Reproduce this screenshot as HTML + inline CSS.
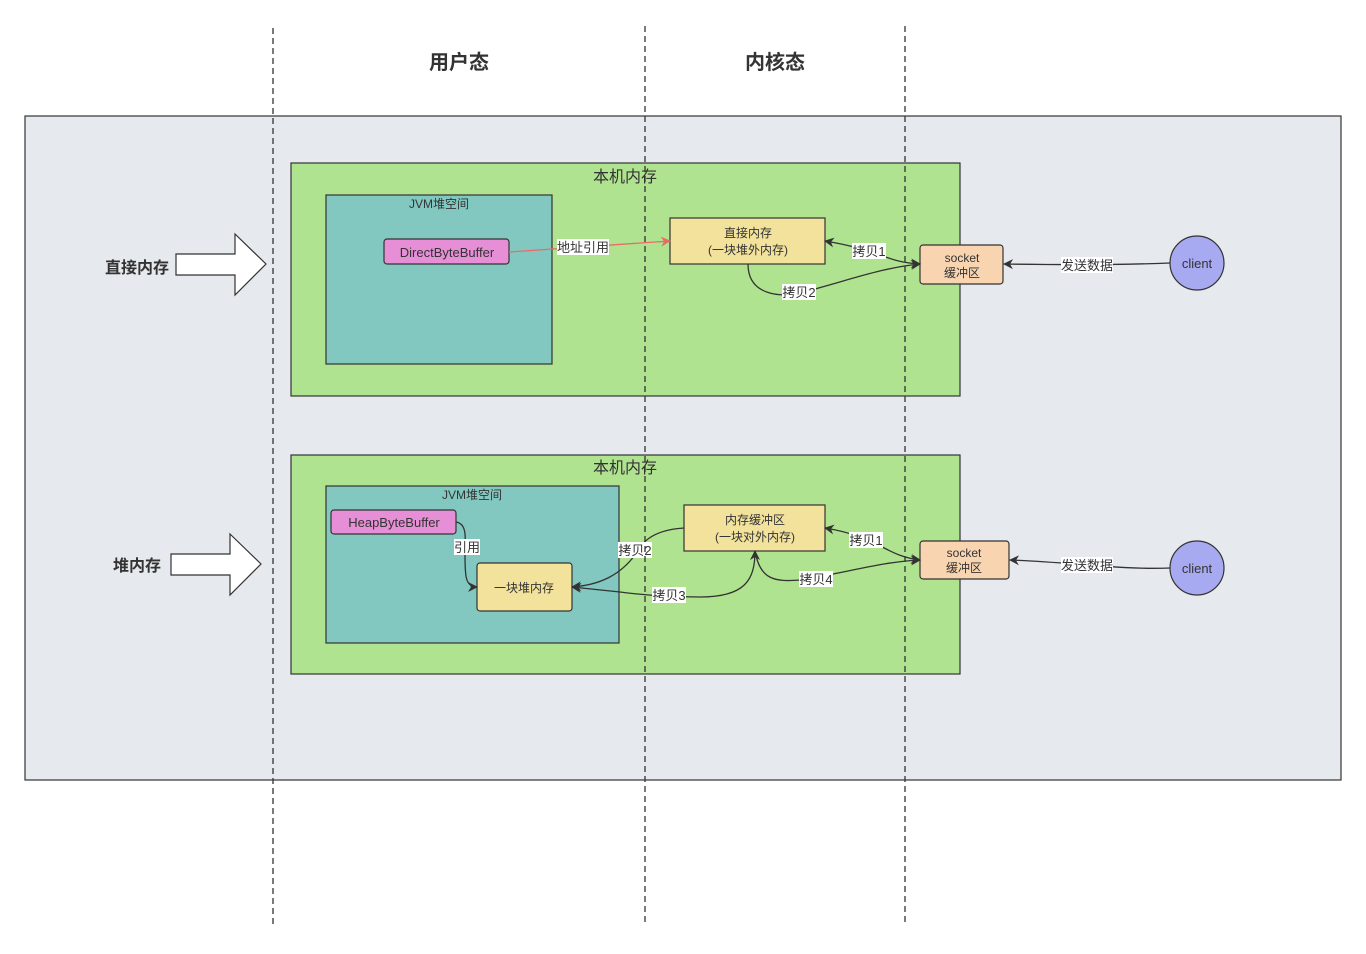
<!DOCTYPE html>
<html><head><meta charset="utf-8"><style>
html,body{margin:0;padding:0;background:#fff;}
svg{display:block;font-family:"Liberation Sans","Noto Sans CJK SC",sans-serif;}
</style></head><body>
<svg width="1366" height="954" viewBox="0 0 1366 954" xmlns="http://www.w3.org/2000/svg">
<defs>
<marker id="ab" markerWidth="10" markerHeight="10" refX="9" refY="5" orient="auto-start-reverse" markerUnits="userSpaceOnUse"><path d="M0,0 L10,5 L0,10 L3,5 Z" fill="#333"/></marker>
<marker id="ar" markerWidth="10" markerHeight="10" refX="9" refY="5" orient="auto-start-reverse" markerUnits="userSpaceOnUse"><path d="M0,0 L10,5 L0,10 L3,5 Z" fill="#ea6b66"/></marker>
</defs>
<text x="459" y="69" font-size="20" font-weight="bold" fill="#333" text-anchor="middle">用户态</text>
<text x="775" y="69" font-size="20" font-weight="bold" fill="#333" text-anchor="middle">内核态</text>
<rect x="25" y="116" width="1316" height="664" fill="#e6e9ed" stroke="#333" stroke-width="1.2"/>

<rect x="291" y="163" width="669" height="233" fill="#b0e38f" stroke="#333" stroke-width="1.2"/>
<text x="625" y="182" font-size="16" fill="#333" text-anchor="middle">本机内存</text>
<rect x="326" y="195" width="226" height="169" fill="#82c8c0" stroke="#333" stroke-width="1.2"/>
<text x="439" y="208" font-size="12" fill="#333" text-anchor="middle">JVM堆空间</text>
<rect x="384" y="239" width="125" height="25" rx="3" fill="#e68fd6" stroke="#333" stroke-width="1.2"/>
<text x="447" y="257" font-size="13" fill="#333" text-anchor="middle">DirectByteBuffer</text>
<rect x="670" y="218" width="155" height="46" fill="#f2e29c" stroke="#333" stroke-width="1.2"/>
<text x="748" y="237" font-size="12" fill="#333" text-anchor="middle">直接内存</text>
<text x="748" y="254" font-size="12" fill="#333" text-anchor="middle">(一块堆外内存)</text>
<rect x="920" y="245" width="83" height="39" rx="3" fill="#f9d4b0" stroke="#333" stroke-width="1.2"/>
<text x="962" y="262" font-size="12" fill="#333" text-anchor="middle">socket</text>
<text x="962" y="277" font-size="12" fill="#333" text-anchor="middle">缓冲区</text>
<circle cx="1197" cy="263" r="27" fill="#a7aaf0" stroke="#333" stroke-width="1.2"/>
<text x="1197" y="268" font-size="13" fill="#333" text-anchor="middle">client</text>
<path d="M509,252 L670,241" stroke="#ea6b66" stroke-width="1.3" fill="none" marker-end="url(#ar)"/>
<rect x="557" y="239" width="52" height="16" fill="#fff"/>
<text x="583" y="252" font-size="13" fill="#333" text-anchor="middle">地址引用</text>
<path d="M1170,263 C1120,265 1070,265 1004,264" stroke="#333" stroke-width="1.3" fill="none" marker-end="url(#ab)"/>
<rect x="1061" y="257" width="52" height="16" fill="#fff"/>
<text x="1087" y="270" font-size="13" fill="#333" text-anchor="middle">发送数据</text>
<path d="M825,241 C880,250 885,262 920,264" stroke="#333" stroke-width="1.3" fill="none" marker-start="url(#ab)" marker-end="url(#ab)"/>
<rect x="852" y="243" width="34" height="16" fill="#fff"/>
<text x="869" y="256" font-size="13" fill="#333" text-anchor="middle">拷贝1</text>
<path d="M748,264 C748,300 790,296 800,293 C850,280 880,268 920,264" stroke="#333" stroke-width="1.3" fill="none" marker-end="url(#ab)"/>
<rect x="782" y="284" width="34" height="16" fill="#fff"/>
<text x="799" y="297" font-size="13" fill="#333" text-anchor="middle">拷贝2</text>
<polygon points="176,254 235,254 235,234 266,264 235,295 235,275 176,275" fill="#fff" stroke="#333" stroke-width="1.2"/>
<text x="137" y="273" font-size="16" font-weight="bold" fill="#333" text-anchor="middle">直接内存</text>

<rect x="291" y="455" width="669" height="219" fill="#b0e38f" stroke="#333" stroke-width="1.2"/>
<text x="625" y="473" font-size="16" fill="#333" text-anchor="middle">本机内存</text>
<rect x="326" y="486" width="293" height="157" fill="#82c8c0" stroke="#333" stroke-width="1.2"/>
<text x="472" y="499" font-size="12" fill="#333" text-anchor="middle">JVM堆空间</text>
<rect x="331" y="510" width="125" height="24" rx="3" fill="#e68fd6" stroke="#333" stroke-width="1.2"/>
<text x="394" y="527" font-size="13" fill="#333" text-anchor="middle">HeapByteBuffer</text>
<rect x="477" y="563" width="95" height="48" rx="3" fill="#f2e29c" stroke="#333" stroke-width="1.2"/>
<text x="524" y="592" font-size="12" fill="#333" text-anchor="middle">一块堆内存</text>
<rect x="684" y="505" width="141" height="46" fill="#f2e29c" stroke="#333" stroke-width="1.2"/>
<text x="755" y="524" font-size="12" fill="#333" text-anchor="middle">内存缓冲区</text>
<text x="755" y="541" font-size="12" fill="#333" text-anchor="middle">(一块对外内存)</text>
<rect x="920" y="541" width="89" height="38" rx="3" fill="#f9d4b0" stroke="#333" stroke-width="1.2"/>
<text x="964" y="557" font-size="12" fill="#333" text-anchor="middle">socket</text>
<text x="964" y="572" font-size="12" fill="#333" text-anchor="middle">缓冲区</text>
<circle cx="1197" cy="568" r="27" fill="#a7aaf0" stroke="#333" stroke-width="1.2"/>
<text x="1197" y="573" font-size="13" fill="#333" text-anchor="middle">client</text>
<path d="M1170,568 C1120,570 1070,562 1010,560" stroke="#333" stroke-width="1.3" fill="none" marker-end="url(#ab)"/>
<rect x="1061" y="557" width="52" height="16" fill="#fff"/>
<text x="1087" y="570" font-size="13" fill="#333" text-anchor="middle">发送数据</text>
<path d="M456,522 C468,524 465,540 465,555 C465,575 465,587 477,587" stroke="#333" stroke-width="1.3" fill="none" marker-end="url(#ab)"/>
<rect x="454" y="539" width="26" height="16" fill="#fff"/>
<text x="467" y="552" font-size="13" fill="#333" text-anchor="middle">引用</text>
<path d="M684,528 C650,530 640,545 635,555 C620,575 600,585 572,587" stroke="#333" stroke-width="1.3" fill="none" marker-end="url(#ab)"/>
<rect x="618" y="542" width="34" height="16" fill="#fff"/>
<text x="635" y="555" font-size="13" fill="#333" text-anchor="middle">拷贝2</text>
<path d="M572,587 L620,592 C650,596 680,597 700,597 C745,597 755,580 755,551" stroke="#333" stroke-width="1.3" fill="none" marker-start="url(#ab)" marker-end="url(#ab)"/>
<rect x="652" y="587" width="34" height="16" fill="#fff"/>
<text x="669" y="600" font-size="13" fill="#333" text-anchor="middle">拷贝3</text>
<path d="M755,551 C760,580 775,582 800,580 C850,572 880,562 920,560" stroke="#333" stroke-width="1.3" fill="none" marker-end="url(#ab)"/>
<rect x="799" y="571" width="34" height="16" fill="#fff"/>
<text x="816" y="584" font-size="13" fill="#333" text-anchor="middle">拷贝4</text>
<path d="M825,528 C880,537 885,556 920,560" stroke="#333" stroke-width="1.3" fill="none" marker-start="url(#ab)" marker-end="url(#ab)"/>
<rect x="849" y="532" width="34" height="16" fill="#fff"/>
<text x="866" y="545" font-size="13" fill="#333" text-anchor="middle">拷贝1</text>
<polygon points="171,554 230,554 230,534 261,564 230,595 230,575 171,575" fill="#fff" stroke="#333" stroke-width="1.2"/>
<text x="137" y="571" font-size="16" font-weight="bold" fill="#333" text-anchor="middle">堆内存</text>

<line x1="273" y1="28" x2="273" y2="928" stroke="#333" stroke-width="1.3" stroke-dasharray="6,4"/>
<line x1="645" y1="26" x2="645" y2="926" stroke="#333" stroke-width="1.3" stroke-dasharray="6,4"/>
<line x1="905" y1="26" x2="905" y2="926" stroke="#333" stroke-width="1.3" stroke-dasharray="6,4"/>
</svg>
</body></html>
